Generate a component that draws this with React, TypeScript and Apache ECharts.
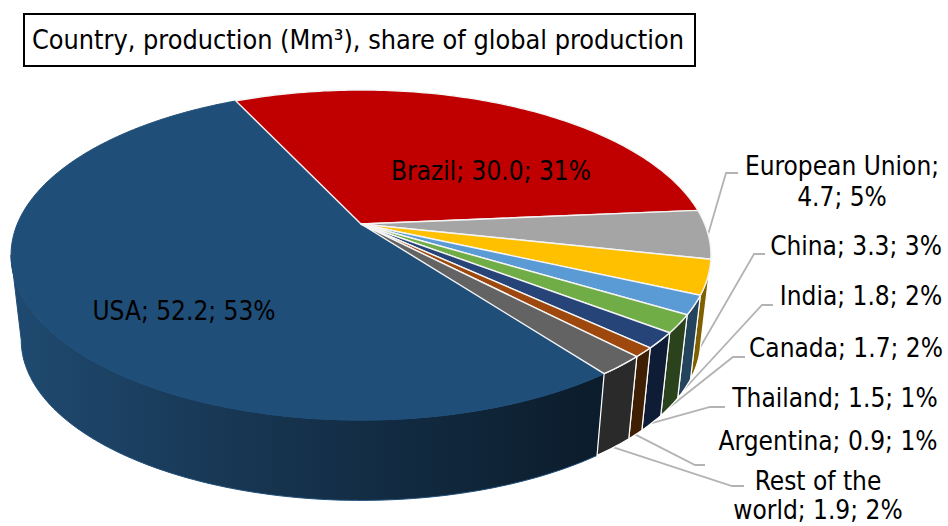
import React, { useEffect, useRef } from "react";
import * as echarts from "echarts";

const titleText = "Country, production (Mm³), share of global production";
const countries = ["Brazil", "European Union", "China", "India", "Canada", "Thailand", "Argentina", "Rest of the world", "USA"];
const production = [30.0, 4.7, 3.3, 1.8, 1.7, 1.5, 0.9, 1.9, 52.2];
const shares = [31, 5, 3, 2, 2, 1, 1, 2, 53];

const topColors = ["#c00000", "#a5a5a5", "#ffc000", "#5b9bd5", "#70ad47", "#264478", "#9e480e", "#636363", "#1f4e79"];
const sideColors = ["#600000", "#525252", "#7f6000", "#24435c", "#2a431c", "#0f1c36", "#3f1f04", "#2a2a2a", "#14304a"];

const FONT = "'DejaVu Sans Condensed', 'DejaVu Sans', sans-serif";
const USA = countries.indexOf("USA");

// Perspective model of the tilted disk
const CX = 361;
const START_DEG = -25.2;
const P = 0.188;
const TOP = { rx: 343.7, ry: 159.2, cy: 224 };
const BASE = { rx: 333.7, ry: 154.6, cy: 310 };
// Angle at which the disk's left edge turns: the wall's silhouette ends here
const LEFT_TURN_DEG = 360 - (Math.acos(-P) * 180) / Math.PI;

const total = production.reduce((a, b) => a + b, 0);
const cumulative: number[] = [];
production.reduce((acc, v, i) => ((cumulative[i] = acc), acc + v), 0);
const angleOf = (v: number) => START_DEG + (v / total) * 360;

function project(deg: number, plane: typeof TOP): [number, number] {
  const r = (deg * Math.PI) / 180;
  const u = Math.sin(r);
  const v = Math.cos(r);
  const w = 1 + P * v;
  return [CX + (plane.rx * u) / w, plane.cy - (plane.ry * v) / w];
}

function arc(a0: number, a1: number, plane: typeof TOP): [number, number][] {
  const n = Math.max(2, Math.ceil(a1 - a0));
  const pts: [number, number][] = [];
  for (let i = 0; i <= n; i++) pts.push(project(a0 + ((a1 - a0) * i) / n, plane));
  return pts;
}

const range = (i: number): [number, number] => [angleOf(cumulative[i]), angleOf(cumulative[i] + production[i])];

const usaSideFill = new echarts.graphic.LinearGradient(0, 0, 1, 0, [
  { offset: 0, color: "#1f4a70" },
  { offset: 0.45, color: "#16334e" },
  { offset: 1, color: "#0b1c2b" },
]);

const renderSide = (params: any) => {
  const i = params.dataIndex;
  const [a0, full] = range(i);
  const a1 = Math.min(full, LEFT_TURN_DEG);
  const points = [...arc(a0, a1, TOP), ...arc(a0, a1, BASE).reverse()];
  return {
    type: "polygon",
    z2: i === USA ? 0 : 1,
    shape: { points },
    style: {
      fill: i === USA ? usaSideFill : sideColors[i],
      stroke: i === USA ? "#1f4e79" : "#ffffff",
      lineWidth: i === USA ? 1 : 1.2,
    },
  };
};

const renderTop = (params: any) => {
  const i = params.dataIndex;
  const [a0, a1] = range(i);
  const points = [[CX, TOP.cy], ...arc(a0, a1, TOP)];
  return {
    type: "polygon",
    z2: i === USA ? 0 : 1,
    shape: { points },
    style: {
      fill: topColors[i],
      stroke: i === USA ? "#1f4e79" : "#f4f4f4",
      lineWidth: i === USA ? 1 : 1.4,
    },
  };
};

// Leader lines: start on the pie rim at the slice's middle angle
const leaderRoute: Record<string, { depth: number; via: [number, number][] }> = {
  "European Union": { depth: 0, via: [[726, 173], [738, 173]] },
  China: { depth: 0.85, via: [[754, 254], [765, 254]] },
  India: { depth: 1, via: [[762, 305], [773, 305]] },
  Canada: { depth: 1, via: [[733, 357], [745, 357]] },
  Thailand: { depth: 1, via: [[710, 407], [725, 407]] },
  Argentina: { depth: 1, via: [[695, 465], [705, 465]] },
  "Rest of the world": { depth: 1, via: [[732, 486], [744, 486]] },
};

const renderLeader = (params: any) => {
  const i = params.dataIndex;
  const route = leaderRoute[countries[i]];
  if (!route) return null;
  const [a0, a1] = range(i);
  const mid = (a0 + a1) / 2;
  const t = project(mid, TOP);
  const b = project(mid, BASE);
  const start = [t[0] + (b[0] - t[0]) * route.depth, t[1] + (b[1] - t[1]) * route.depth];
  return {
    type: "polyline",
    shape: { points: [start, ...route.via] },
    style: { fill: "none", stroke: "#b3b3b3", lineWidth: 1.8 },
  };
};

const labelText = (i: number) => {
  const name = countries[i];
  const val = `${production[i].toFixed(1)}; ${shares[i]}%`;
  if (name === "European Union") return `${name};\n${val}`;
  if (name === "Rest of the world") return `Rest of the\nworld; ${val}`;
  return `${name}; ${val}`;
};

const labelPlace: Record<string, { x: number; y: number; lh: number }> = {
  Brazil: { x: 491, y: 171, lh: 31 },
  USA: { x: 184, y: 311, lh: 31 },
  "European Union": { x: 842, y: 181, lh: 31 },
  China: { x: 856, y: 246, lh: 31 },
  India: { x: 861, y: 296, lh: 31 },
  Canada: { x: 846, y: 348, lh: 31 },
  Thailand: { x: 835, y: 398, lh: 31 },
  Argentina: { x: 828, y: 441, lh: 31 },
  "Rest of the world": { x: 818, y: 495, lh: 29 },
};

export default function App() {
  const ref = useRef<HTMLDivElement>(null);
  useEffect(() => {
    document.body.style.margin = "0";
    const chart = echarts.init(ref.current!, undefined, { renderer: "svg", width: 948, height: 526 });
    const seriesData = production.map((v, i) => ({ name: countries[i], value: v }));
    const custom = (id: string, renderItem: any, z: number) => ({
      type: "custom",
      id,
      coordinateSystem: "none",
      silent: true,
      clip: false,
      z,
      data: seriesData,
      renderItem,
    });
    chart.setOption({
      animation: false,
      backgroundColor: "#ffffff",
      series: [custom("leaders", renderLeader, 1), custom("sides", renderSide, 2), custom("tops", renderTop, 3)],
      graphic: [
        {
          type: "rect",
          z: 10,
          shape: { x: 24, y: 14, width: 671, height: 52 },
          style: { fill: "#ffffff", stroke: "#000000", lineWidth: 2 },
        },
        {
          type: "text",
          z: 11,
          x: 358,
          y: 39,
          style: { text: titleText, font: `26.8px ${FONT}`, fill: "#000000", align: "center", verticalAlign: "middle" },
        },
        ...countries.map((name, i) => ({
          type: "text",
          z: 11,
          x: labelPlace[name].x,
          y: labelPlace[name].y,
          style: {
            text: labelText(i),
            font: `26px ${FONT}`,
            lineHeight: labelPlace[name].lh,
            fill: "#000000",
            align: "center",
            verticalAlign: "middle",
          },
        })),
      ],
    });
    return () => chart.dispose();
  }, []);
  return <div ref={ref} style={{ position: "absolute", left: 0, top: 0, width: 948, height: 526 }} />;
}
